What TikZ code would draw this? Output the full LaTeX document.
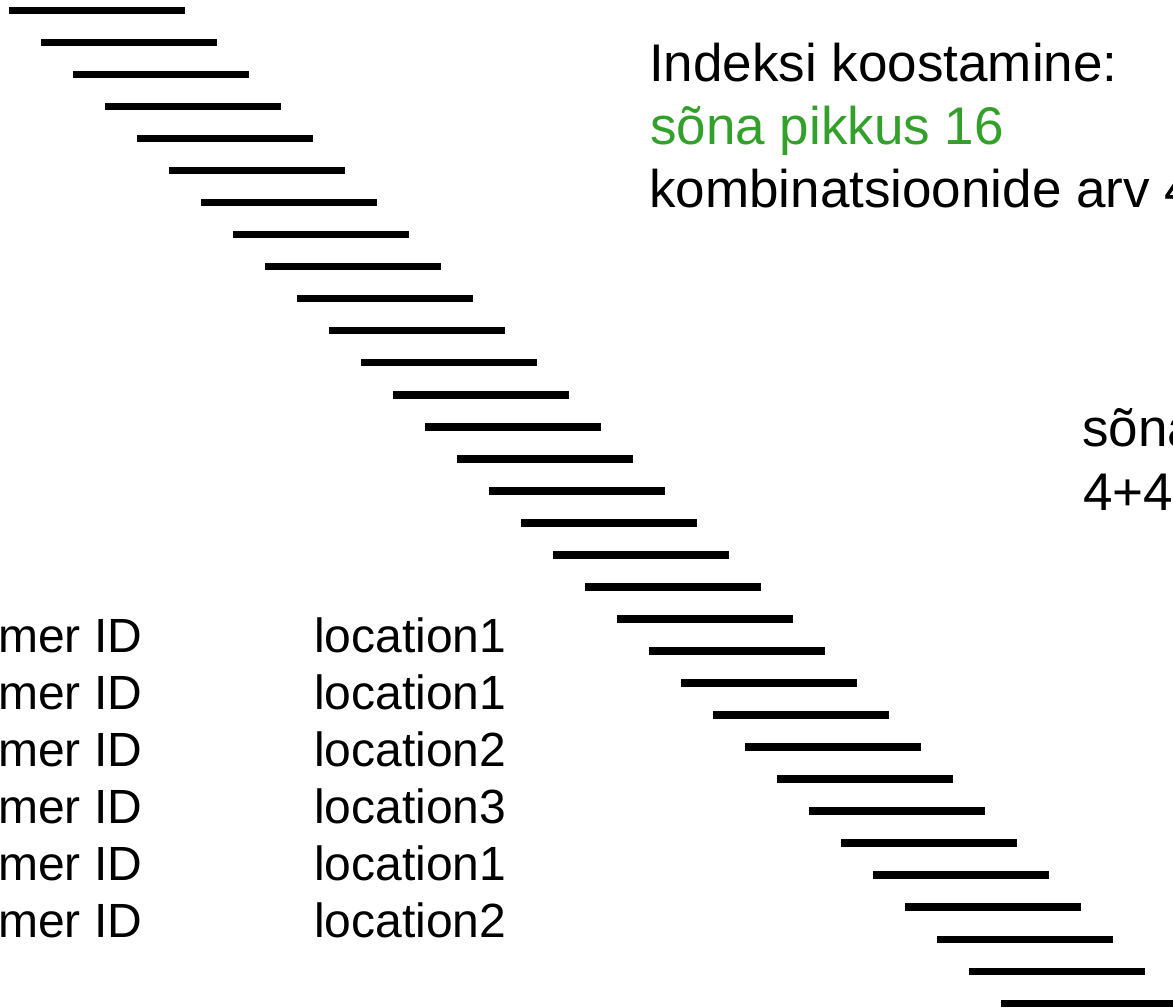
\documentclass[tikz,border=0pt]{standalone}
\usepackage{fontspec}
\setmainfont{Liberation Sans}
\definecolor{wgreen}{RGB}{51,160,44}
\begin{document}
\begin{tikzpicture}[x=1pt,y=-1pt,
  bar/.style={line width=7.5pt},
  big/.style={inner sep=0pt,anchor=base west,font=\fontsize{53}{63}\selectfont},
  tab/.style={inner sep=0pt,anchor=base west,font=\fontsize{48}{57}\selectfont}]
\useasboundingbox (0,0) rectangle (1173,1008);
\clip (0,0) rectangle (1173,1008);
\foreach \k in {0,...,31}{
  \draw[bar] ({9+32*\k},{10.4+32.03*\k}) -- ({185+32*\k},{10.4+32.03*\k});
}
\node[big] (t1) at (649,82) {Indeksi koostamine:};
\node[big,text=wgreen] (t2) at (650,145) {sõna pikkus 16};
\node[big] (t3) at (649,208) {kombinatsioonide arv 4};
\node[big] (s1) at (1082,446) {sõna};
\node[big] (s2) at (1083,510) {4+4};
\foreach \i/\loc in {0/1,1/1,2/2,3/3,4/1,5/2}{
  \node[tab] (m\i) at (-2,{652+57*\i}) {mer ID};
  \node[tab] (l\i) at (314,{652+57*\i}) {location\loc};
}
\end{tikzpicture}
\end{document}
